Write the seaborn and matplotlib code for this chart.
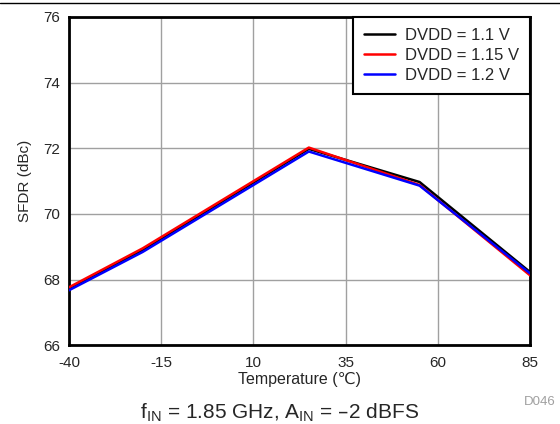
import pandas as pd
import seaborn as sns
import matplotlib.pyplot as plt

# Datos
temperatura = [-40, -20, 25, 55, 85]
sfdr_11 = [67.72, 68.90, 71.98, 70.97, 68.22]
sfdr_115 = [67.76, 68.95, 72.02, 70.88, 68.12]
sfdr_12 = [67.67, 68.84, 71.90, 70.86, 68.18]
series = ["DVDD = 1.1 V", "DVDD = 1.15 V", "DVDD = 1.2 V"]
colores = ["black", "red", "blue"]
xticks = [-40, -15, 10, 35, 60, 85]
yticks = [66, 68, 70, 72, 74, 76]

df = pd.DataFrame({
    "Temperatura": temperatura * 3,
    "SFDR": sfdr_11 + sfdr_115 + sfdr_12,
    "Serie": [series[0]] * 5 + [series[1]] * 5 + [series[2]] * 5,
})

sns.set_style("white")
plt.rcParams["font.family"] = ["Liberation Sans", "DejaVu Sans"]
plt.rcParams["axes.unicode_minus"] = False

fig = plt.figure(figsize=(5.6, 4.24), dpi=100)
ax = fig.add_axes([0.123, 0.186, 0.824, 0.774])

sns.lineplot(data=df, x="Temperatura", y="SFDR", hue="Serie", palette=colores,
             linewidth=1.8, ax=ax, zorder=3)

ax.set_xlim(-40, 85)
ax.set_ylim(66, 76)
ax.set_xticks(xticks)
ax.set_yticks(yticks)
ax.tick_params(axis="both", labelsize=11, length=0)
ax.tick_params(axis="x", pad=8)
ax.tick_params(axis="y", pad=6)
ax.grid(True, color="#a0a0a0", linewidth=1)
for s in ax.spines.values():
    s.set_color("black")
    s.set_linewidth(2)

ax.set_xlabel("Temperature (\u2103)", fontsize=11.5, labelpad=1)
ax.set_ylabel("SFDR (dBc)", fontsize=11, labelpad=8)

leg = ax.legend(loc="upper right", fontsize=12, frameon=True, fancybox=False,
                borderaxespad=0, handlelength=1.9, labelspacing=0.3,
                borderpad=0.65, handletextpad=0.6)
leg.get_frame().set_edgecolor("black")
leg.get_frame().set_linewidth(1.5)
leg.get_frame().set_alpha(1)

# Línea superior, referencia y pie
fig.add_artist(plt.Line2D([0, 1], [0.993, 0.993], color="black", linewidth=1))
fig.text(0.992, 1 - 402 / 424, "D046", fontsize=9.5, color="#a0a0a0", ha="right", va="center")
fig.text(0.5, 1 - 413 / 424, "f$_{\\mathregular{IN}}$ = 1.85 GHz, A$_{\\mathregular{IN}}$ = \u20132 dBFS",
         fontsize=15, ha="center", va="center")

plt.savefig("out.png", dpi=100)
